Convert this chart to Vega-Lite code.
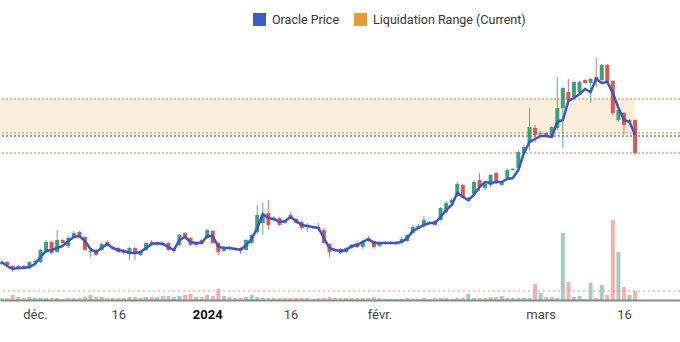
{
  "$schema": "https://vega.github.io/schema/vega-lite/v6.json",
  "width": 680,
  "height": 300,
  "autosize": {"type": "none"},
  "padding": {"left": 0, "top": 0, "right": 0, "bottom": 42},
  "config": {
    "view": {"stroke": null},
    "font": "Roboto",
    "legend": {"padding": 0, "offset": 0}
  },
  "datasets": {
    "candles": [
      {"t":"2023-11-25T00:00:00","o":6.6,"h":7.0,"l":6.5,"c":6.8,"p":6.8,"v":0.2},
      {"t":"2023-11-26T00:00:00","o":6.8,"h":6.9,"l":6.4,"c":6.5,"p":6.4,"v":0.2},
      {"t":"2023-11-27T00:00:00","o":6.4,"h":6.5,"l":5.8,"c":6.2,"p":6.1,"v":0.5},
      {"t":"2023-11-28T00:00:00","o":6.1,"h":6.5,"l":6.0,"c":6.4,"p":6.2,"v":0.3},
      {"t":"2023-11-29T00:00:00","o":6.4,"h":6.5,"l":6.1,"c":6.2,"p":6.2,"v":0.2},
      {"t":"2023-11-30T00:00:00","o":6.2,"h":6.9,"l":6.1,"c":6.8,"p":6.3,"v":0.3},
      {"t":"2023-12-01T00:00:00","o":6.8,"h":7.1,"l":6.6,"c":6.9,"p":6.6,"v":0.2},
      {"t":"2023-12-02T00:00:00","o":6.8,"h":8.1,"l":6.7,"c":8.0,"p":7.3,"v":0.2},
      {"t":"2023-12-03T00:00:00","o":7.9,"h":9.0,"l":7.7,"c":8.8,"p":7.9,"v":0.2},
      {"t":"2023-12-04T00:00:00","o":8.8,"h":8.9,"l":7.6,"c":7.7,"p":8.0,"v":0.2},
      {"t":"2023-12-05T00:00:00","o":7.8,"h":10.0,"l":7.7,"c":9.0,"p":8.2,"v":0.2},
      {"t":"2023-12-06T00:00:00","o":9.0,"h":9.1,"l":8.6,"c":8.7,"p":8.4,"v":0.1},
      {"t":"2023-12-07T00:00:00","o":8.4,"h":9.4,"l":8.2,"c":9.2,"p":8.9,"v":0.2},
      {"t":"2023-12-08T00:00:00","o":9.3,"h":9.9,"l":9.2,"c":9.7,"p":9.3,"v":0.2},
      {"t":"2023-12-09T00:00:00","o":9.8,"h":9.9,"l":9.2,"c":9.3,"p":9.4,"v":0.2},
      {"t":"2023-12-10T00:00:00","o":9.3,"h":9.4,"l":7.9,"c":8.0,"p":8.9,"v":0.3},
      {"t":"2023-12-11T00:00:00","o":7.8,"h":8.2,"l":7.3,"c":7.9,"p":8.1,"v":0.5},
      {"t":"2023-12-12T00:00:00","o":8.0,"h":8.1,"l":7.4,"c":7.5,"p":7.8,"v":0.3},
      {"t":"2023-12-13T00:00:00","o":8.0,"h":8.7,"l":7.9,"c":8.6,"p":8.2,"v":0.3},
      {"t":"2023-12-14T00:00:00","o":8.8,"h":9.0,"l":8.4,"c":8.5,"p":8.6,"v":0.2},
      {"t":"2023-12-15T00:00:00","o":8.1,"h":8.4,"l":8.0,"c":8.3,"p":8.2,"v":0.2},
      {"t":"2023-12-16T00:00:00","o":8.2,"h":8.3,"l":7.7,"c":7.8,"p":8.0,"v":0.2},
      {"t":"2023-12-17T00:00:00","o":8.0,"h":8.1,"l":7.5,"c":7.7,"p":7.9,"v":0.2},
      {"t":"2023-12-18T00:00:00","o":7.6,"h":8.3,"l":7.0,"c":8.2,"p":7.7,"v":0.3},
      {"t":"2023-12-19T00:00:00","o":8.2,"h":8.3,"l":7.0,"c":7.7,"p":7.7,"v":0.3},
      {"t":"2023-12-20T00:00:00","o":7.5,"h":7.9,"l":7.4,"c":7.8,"p":7.8,"v":0.2},
      {"t":"2023-12-21T00:00:00","o":8.0,"h":8.8,"l":7.9,"c":8.7,"p":8.2,"v":0.3},
      {"t":"2023-12-22T00:00:00","o":8.8,"h":9.0,"l":8.4,"c":8.5,"p":8.6,"v":0.3},
      {"t":"2023-12-23T00:00:00","o":8.5,"h":8.8,"l":8.4,"c":8.7,"p":8.7,"v":0.3},
      {"t":"2023-12-24T00:00:00","o":8.7,"h":8.9,"l":8.4,"c":8.5,"p":8.6,"v":0.4},
      {"t":"2023-12-25T00:00:00","o":8.7,"h":8.8,"l":7.9,"c":8.0,"p":8.3,"v":0.4},
      {"t":"2023-12-26T00:00:00","o":7.9,"h":8.2,"l":7.7,"c":8.1,"p":8.0,"v":0.3},
      {"t":"2023-12-27T00:00:00","o":8.5,"h":9.6,"l":8.4,"c":9.5,"p":9.0,"v":0.4},
      {"t":"2023-12-28T00:00:00","o":9.7,"h":9.8,"l":9.2,"c":9.3,"p":9.3,"v":0.5},
      {"t":"2023-12-29T00:00:00","o":9.2,"h":9.3,"l":8.4,"c":8.5,"p":8.8,"v":0.6},
      {"t":"2023-12-30T00:00:00","o":8.5,"h":8.8,"l":8.3,"c":8.7,"p":8.7,"v":0.3},
      {"t":"2023-12-31T00:00:00","o":9.0,"h":9.1,"l":8.6,"c":8.7,"p":8.7,"v":0.3},
      {"t":"2024-01-01T00:00:00","o":9.2,"h":10.1,"l":9.1,"c":10.0,"p":9.4,"v":0.5},
      {"t":"2024-01-02T00:00:00","o":9.9,"h":10.0,"l":8.6,"c":8.7,"p":9.4,"v":0.4},
      {"t":"2024-01-03T00:00:00","o":8.7,"h":8.8,"l":7.5,"c":7.8,"p":8.3,"v":1.1},
      {"t":"2024-01-04T00:00:00","o":7.9,"h":8.4,"l":7.8,"c":8.3,"p":8.2,"v":0.4},
      {"t":"2024-01-05T00:00:00","o":8.3,"h":8.4,"l":8.0,"c":8.1,"p":8.2,"v":0.3},
      {"t":"2024-01-06T00:00:00","o":8.1,"h":8.3,"l":8.0,"c":8.2,"p":8.1,"v":0.2},
      {"t":"2024-01-07T00:00:00","o":8.2,"h":8.3,"l":7.6,"c":8.0,"p":8.0,"v":0.2},
      {"t":"2024-01-08T00:00:00","o":8.0,"h":9.1,"l":7.9,"c":9.0,"p":8.5,"v":0.3},
      {"t":"2024-01-09T00:00:00","o":8.7,"h":9.6,"l":8.6,"c":9.5,"p":9.1,"v":0.5},
      {"t":"2024-01-10T00:00:00","o":9.8,"h":12.5,"l":9.6,"c":11.5,"p":10.2,"v":0.3},
      {"t":"2024-01-11T00:00:00","o":10.7,"h":12.7,"l":9.5,"c":11.5,"p":11.6,"v":0.2},
      {"t":"2024-01-12T00:00:00","o":11.7,"h":13.0,"l":10.0,"c":10.5,"p":11.2,"v":0.2},
      {"t":"2024-01-13T00:00:00","o":11.0,"h":11.4,"l":10.9,"c":11.2,"p":11.1,"v":0.2},
      {"t":"2024-01-14T00:00:00","o":11.2,"h":11.3,"l":10.4,"c":10.5,"p":10.8,"v":0.2},
      {"t":"2024-01-15T00:00:00","o":10.7,"h":11.0,"l":10.6,"c":10.9,"p":10.9,"v":0.2},
      {"t":"2024-01-16T00:00:00","o":11.5,"h":11.8,"l":11.2,"c":11.3,"p":11.3,"v":0.2},
      {"t":"2024-01-17T00:00:00","o":11.1,"h":11.2,"l":10.6,"c":10.7,"p":10.9,"v":0.2},
      {"t":"2024-01-18T00:00:00","o":10.8,"h":11.0,"l":10.0,"c":10.2,"p":10.5,"v":0.2},
      {"t":"2024-01-19T00:00:00","o":10.3,"h":10.7,"l":9.8,"c":10.4,"p":10.4,"v":0.2},
      {"t":"2024-01-20T00:00:00","o":10.3,"h":10.4,"l":10.1,"c":10.2,"p":10.3,"v":0.1},
      {"t":"2024-01-21T00:00:00","o":10.3,"h":10.7,"l":10.0,"c":10.1,"p":10.2,"v":0.2},
      {"t":"2024-01-22T00:00:00","o":10.0,"h":10.2,"l":8.6,"c":8.7,"p":9.2,"v":0.2},
      {"t":"2024-01-23T00:00:00","o":8.6,"h":8.7,"l":7.3,"c":7.8,"p":8.2,"v":0.3},
      {"t":"2024-01-24T00:00:00","o":7.9,"h":8.1,"l":7.8,"c":8.0,"p":8.0,"v":0.2},
      {"t":"2024-01-25T00:00:00","o":8.1,"h":8.2,"l":7.6,"c":7.7,"p":7.9,"v":0.2},
      {"t":"2024-01-26T00:00:00","o":7.8,"h":8.3,"l":7.7,"c":8.2,"p":8.0,"v":0.2},
      {"t":"2024-01-27T00:00:00","o":8.2,"h":8.6,"l":8.1,"c":8.5,"p":8.4,"v":0.2},
      {"t":"2024-01-28T00:00:00","o":8.7,"h":8.8,"l":8.2,"c":8.3,"p":8.5,"v":0.2},
      {"t":"2024-01-29T00:00:00","o":8.3,"h":9.0,"l":8.1,"c":8.9,"p":8.8,"v":0.2},
      {"t":"2024-01-30T00:00:00","o":9.1,"h":9.4,"l":8.8,"c":8.9,"p":9.1,"v":0.2},
      {"t":"2024-01-31T00:00:00","o":8.9,"h":9.0,"l":8.1,"c":8.3,"p":8.7,"v":0.3},
      {"t":"2024-02-01T00:00:00","o":8.4,"h":8.8,"l":8.3,"c":8.7,"p":8.7,"v":0.2},
      {"t":"2024-02-02T00:00:00","o":8.7,"h":8.9,"l":8.6,"c":8.8,"p":8.7,"v":0.1},
      {"t":"2024-02-03T00:00:00","o":8.7,"h":8.9,"l":8.6,"c":8.8,"p":8.7,"v":0.1},
      {"t":"2024-02-04T00:00:00","o":8.6,"h":8.9,"l":8.5,"c":8.8,"p":8.7,"v":0.1},
      {"t":"2024-02-05T00:00:00","o":8.8,"h":9.3,"l":8.7,"c":9.1,"p":8.8,"v":0.1},
      {"t":"2024-02-06T00:00:00","o":8.9,"h":9.6,"l":8.8,"c":9.5,"p":9.2,"v":0.2},
      {"t":"2024-02-07T00:00:00","o":9.7,"h":10.5,"l":9.6,"c":10.3,"p":9.9,"v":0.1},
      {"t":"2024-02-08T00:00:00","o":10.2,"h":10.6,"l":10.1,"c":10.4,"p":10.2,"v":0.1},
      {"t":"2024-02-09T00:00:00","o":10.4,"h":11.4,"l":10.2,"c":11.0,"p":10.5,"v":0.2},
      {"t":"2024-02-10T00:00:00","o":10.8,"h":10.9,"l":10.6,"c":10.7,"p":10.7,"v":0.1},
      {"t":"2024-02-11T00:00:00","o":10.9,"h":11.0,"l":10.4,"c":10.5,"p":10.7,"v":0.2},
      {"t":"2024-02-12T00:00:00","o":11.0,"h":12.3,"l":10.9,"c":12.2,"p":11.3,"v":0.2},
      {"t":"2024-02-13T00:00:00","o":11.8,"h":12.9,"l":11.7,"c":12.7,"p":12.0,"v":0.2},
      {"t":"2024-02-14T00:00:00","o":12.7,"h":13.2,"l":12.6,"c":13.0,"p":12.5,"v":0.1},
      {"t":"2024-02-15T00:00:00","o":13.4,"h":14.8,"l":13.3,"c":14.6,"p":13.7,"v":0.2},
      {"t":"2024-02-16T00:00:00","o":14.5,"h":14.6,"l":13.2,"c":13.3,"p":13.3,"v":0.2},
      {"t":"2024-02-17T00:00:00","o":12.9,"h":13.3,"l":12.8,"c":13.1,"p":13.0,"v":0.6},
      {"t":"2024-02-18T00:00:00","o":13.6,"h":15.0,"l":13.5,"c":14.8,"p":13.5,"v":0.2},
      {"t":"2024-02-19T00:00:00","o":15.0,"h":15.7,"l":13.9,"c":14.3,"p":14.3,"v":0.2},
      {"t":"2024-02-20T00:00:00","o":14.2,"h":14.8,"l":14.0,"c":14.6,"p":14.8,"v":0.2},
      {"t":"2024-02-21T00:00:00","o":14.5,"h":15.6,"l":14.3,"c":15.5,"p":14.7,"v":0.3},
      {"t":"2024-02-22T00:00:00","o":15.7,"h":15.8,"l":14.6,"c":14.7,"p":14.8,"v":0.3},
      {"t":"2024-02-23T00:00:00","o":14.5,"h":14.9,"l":14.4,"c":14.8,"p":14.8,"v":0.4},
      {"t":"2024-02-24T00:00:00","o":15.2,"h":16.1,"l":15.0,"c":16.0,"p":15.1,"v":0.2},
      {"t":"2024-02-25T00:00:00","o":16.0,"h":16.2,"l":15.9,"c":16.1,"p":15.2,"v":0.2},
      {"t":"2024-02-26T00:00:00","o":16.2,"h":18.0,"l":16.0,"c":17.8,"p":16.0,"v":0.2},
      {"t":"2024-02-27T00:00:00","o":17.7,"h":18.5,"l":17.5,"c":18.3,"p":17.7,"v":0.2},
      {"t":"2024-02-28T00:00:00","o":18.7,"h":22.2,"l":18.0,"c":20.3,"p":18.8,"v":0.2},
      {"t":"2024-02-29T00:00:00","o":20.2,"h":20.5,"l":18.8,"c":19.5,"p":19.1,"v":1.6},
      {"t":"2024-03-01T00:00:00","o":19.6,"h":19.9,"l":19.4,"c":19.7,"p":19.4,"v":0.7},
      {"t":"2024-03-02T00:00:00","o":19.7,"h":19.8,"l":19.3,"c":19.4,"p":19.4,"v":0.3},
      {"t":"2024-03-03T00:00:00","o":19.3,"h":20.4,"l":19.2,"c":20.3,"p":19.3,"v":0.3},
      {"t":"2024-03-04T00:00:00","o":20.2,"h":25.3,"l":20.0,"c":22.2,"p":20.8,"v":0.2},
      {"t":"2024-03-05T00:00:00","o":22.2,"h":24.3,"l":18.2,"c":24.2,"p":21.0,"v":6.7},
      {"t":"2024-03-06T00:00:00","o":23.8,"h":25.1,"l":22.8,"c":23.0,"p":22.9,"v":1.8},
      {"t":"2024-03-07T00:00:00","o":23.3,"h":24.9,"l":23.2,"c":24.8,"p":23.2,"v":0.3},
      {"t":"2024-03-08T00:00:00","o":23.8,"h":24.9,"l":23.7,"c":24.8,"p":23.6,"v":0.4},
      {"t":"2024-03-09T00:00:00","o":25.0,"h":25.1,"l":24.6,"c":24.7,"p":24.1,"v":0.1},
      {"t":"2024-03-10T00:00:00","o":24.7,"h":25.2,"l":22.7,"c":25.1,"p":23.8,"v":1.7},
      {"t":"2024-03-11T00:00:00","o":25.3,"h":27.2,"l":24.3,"c":25.0,"p":25.1,"v":0.2},
      {"t":"2024-03-12T00:00:00","o":25.0,"h":26.6,"l":24.9,"c":26.5,"p":24.7,"v":1.5},
      {"t":"2024-03-13T00:00:00","o":26.5,"h":26.6,"l":24.7,"c":24.8,"p":24.8,"v":0.5},
      {"t":"2024-03-14T00:00:00","o":24.9,"h":25.0,"l":21.5,"c":21.7,"p":23.7,"v":8.0},
      {"t":"2024-03-15T00:00:00","o":21.0,"h":22.1,"l":20.8,"c":22.0,"p":22.2,"v":4.8},
      {"t":"2024-03-16T00:00:00","o":21.7,"h":21.8,"l":19.5,"c":20.5,"p":21.0,"v":1.3},
      {"t":"2024-03-17T00:00:00","o":20.9,"h":21.1,"l":20.8,"c":21.0,"p":20.8,"v":0.5},
      {"t":"2024-03-18T00:00:00","o":21.0,"h":21.1,"l":17.5,"c":17.7,"p":19.5,"v":0.9}
    ],
    "levels": [
      {"lvl": 23.1, "kind": "liq"},
      {"lvl": 19.7, "kind": "liq"},
      {"lvl": 19.4, "kind": "oracle"},
      {"lvl": 17.7, "kind": "last"}
    ],
    "band": [
      {"t": "2023-11-24T17:00:00", "t2": "2024-03-18T00:00:00", "hi": 23.1, "lo": 19.7}
    ],
    "volref": [{"v": 0.9}],
    "series": [{"s": "Oracle Price"}, {"s": "Liquidation Range (Current)"}]
  },
  "layer": [
    {
      "layer": [
        {
          "data": {"name": "band"},
          "mark": {"type": "rect", "color": "#f9eedc"},
          "encoding": {
            "x": {"field": "t", "type": "temporal", "scale": {"domain": ["2023-11-24T17:00:00", "2024-03-26T02:00:00"], "nice": false, "padding": 0}},
            "x2": {"field": "t2"},
            "y": {"field": "hi", "type": "quantitative", "scale": {"domain": [3, 33], "zero": false, "nice": false}, "axis": null},
            "y2": {"field": "lo"}
          }
        },
        {
          "data": {"name": "levels"},
          "mark": {"type": "rule", "strokeDash": [2, 2]},
          "encoding": {
            "y": {"field": "lvl", "type": "quantitative", "axis": null},
            "color": {"condition": [{"test": "datum.kind === 'liq'", "value": "#e6aa55"}, {"test": "datum.kind === 'oracle'", "value": "#2b3a7e"}], "value": "#df6a62"},
            "strokeWidth": {"condition": {"test": "datum.kind === 'liq'", "value": 1.6}, "value": 1.2}
          }
        },
        {
          "data": {"name": "candles"},
          "mark": {"type": "rule", "strokeWidth": 1, "opacity": 0.85},
          "encoding": {
            "x": {
              "field": "t", "type": "temporal", "title": null,
              "scale": {"domain": ["2023-11-24T17:00:00", "2024-03-26T02:00:00"], "nice": false, "padding": 0},
              "axis": {
                "values": [
                  {"year": 2023, "month": 12, "date": 1},
                  {"year": 2023, "month": 12, "date": 16},
                  {"year": 2024, "month": 1, "date": 1},
                  {"year": 2024, "month": 1, "date": 16},
                  {"year": 2024, "month": 2, "date": 1},
                  {"year": 2024, "month": 3, "date": 1},
                  {"year": 2024, "month": 3, "date": 16}
                ],
                "labelExpr": "date(datum.value) == 1 ? (month(datum.value) == 0 ? timeFormat(datum.value, '%Y') : ['janv.','févr.','mars','avr.','mai','juin','juil.','août','sept.','oct.','nov.','déc.'][month(datum.value)]) : timeFormat(datum.value, '%d')",
                "ticks": false,
                "grid": false,
                "domainColor": "#8a8a8a",
                "domainWidth": 2,
                "labelFontSize": 13,
                "labelFont": "Roboto",
                "labelColor": {"condition": {"test": "month(datum.value) == 0 && date(datum.value) == 1", "value": "#111111"}, "value": "#444444"},
                "labelFontWeight": {"condition": {"test": "month(datum.value) == 0 && date(datum.value) == 1", "value": "bold"}, "value": "normal"},
                "labelPadding": 8,
                "labelOverlap": false,
                "labelFlush": false
              }
            },
            "y": {"field": "l", "type": "quantitative", "axis": null},
            "y2": {"field": "h"},
            "color": {"condition": {"test": "datum.c >= datum.o", "value": "#3f9f7d"}, "value": "#e0564c"}
          }
        },
        {
          "data": {"name": "candles"},
          "mark": {"type": "bar", "size": 4},
          "encoding": {
            "x": {"field": "t", "type": "temporal", "scale": {"domain": ["2023-11-24T17:00:00", "2024-03-26T02:00:00"], "nice": false, "padding": 0}},
            "y": {"field": "o", "type": "quantitative", "axis": null},
            "y2": {"field": "c"},
            "color": {"condition": {"test": "datum.c >= datum.o", "value": "#3f9f7d"}, "value": "#e0564c"}
          }
        },
        {
          "data": {"name": "candles"},
          "mark": {"type": "line", "color": "#3a55c6", "strokeWidth": 2.5},
          "encoding": {
            "x": {"field": "t", "type": "temporal", "scale": {"domain": ["2023-11-24T17:00:00", "2024-03-26T02:00:00"], "nice": false, "padding": 0}},
            "y": {"field": "p", "type": "quantitative", "axis": null}
          }
        },
        {
          "data": {"name": "series"},
          "mark": {"type": "square", "opacity": 0, "size": 0, "filled": true},
          "encoding": {
            "color": {
              "field": "s", "type": "nominal",
              "scale": {"domain": ["Oracle Price", "Liquidation Range (Current)"], "range": ["#3a5bcc", "#e69a3c"]},
              "legend": {
                "orient": "none", "legendX": 253, "legendY": 13, "direction": "horizontal", "title": null,
                "symbolType": "square", "symbolSize": 169, "symbolStrokeWidth": 0,
                "labelFontSize": 12.5, "labelFont": "Roboto", "labelColor": "#333333",
                "labelOffset": 6, "columnPadding": 14
              }
            }
          }
        }
      ]
    },
    {
      "layer": [
        {
          "data": {"name": "candles"},
          "mark": {"type": "bar", "size": 4, "opacity": 0.5},
          "encoding": {
            "x": {"field": "t", "type": "temporal", "scale": {"domain": ["2023-11-24T17:00:00", "2024-03-26T02:00:00"], "nice": false, "padding": 0}},
            "y": {"field": "v", "type": "quantitative", "scale": {"domain": [0, 30], "nice": false}, "axis": null},
            "color": {"condition": {"test": "datum.c >= datum.o", "value": "#3f9f7d"}, "value": "#e8645a"}
          }
        },
        {
          "data": {"name": "volref"},
          "mark": {"type": "rule", "strokeDash": [2, 3], "color": "#f08a82", "strokeWidth": 1.2},
          "encoding": {
            "y": {"field": "v", "type": "quantitative", "axis": null}
          }
        }
      ]
    }
  ],
  "resolve": {"scale": {"y": "independent"}}
}
